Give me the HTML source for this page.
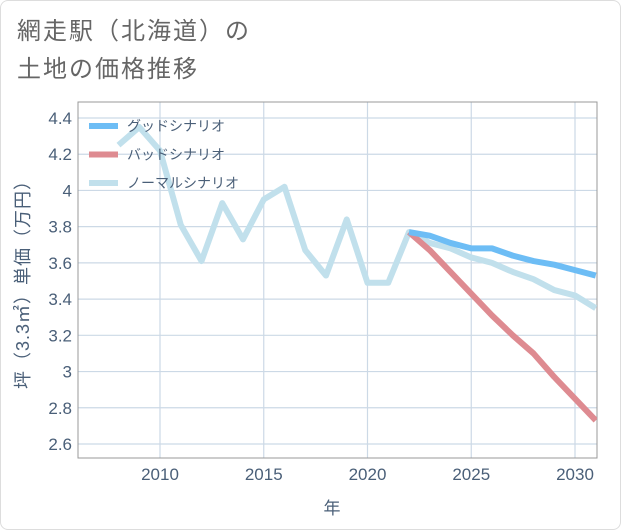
<!DOCTYPE html>
<html><head><meta charset="utf-8"><style>
body{margin:0;background:#fff;}
#wrap{position:relative;width:619px;height:528px;border:1px solid #ddd;border-radius:8px;overflow:hidden;font-family:"Liberation Sans","Noto Sans CJK JP",sans-serif;}
.title{position:absolute;left:16px;color:#666;font-size:24px;line-height:38px;letter-spacing:2px;}
</style></head><body>
<div id="wrap">
<div class="title" style="top:12px">網走駅（北海道）の<br>土地の価格推移</div>
<svg id="chart" width="621" height="530" style="position:absolute;left:-1px;top:-1px"></svg>
</div>
<script>
const years=[2008,2009,2010,2011,2012,2013,2014,2015,2016,2017,2018,2019,2020,2021,2022,2023,2024,2025,2026,2027,2028,2029,2030,2031];
const normalValues=[4.25,4.35,4.22,3.81,3.61,3.93,3.73,3.95,4.02,3.67,3.53,3.84,3.49,3.49,3.77,3.71,3.68,3.63,3.60,3.55,3.51,3.45,3.42,3.35];
const futureYears=[2022,2023,2024,2025,2026,2027,2028,2029,2030,2031];
const goodValues=[3.77,3.75,3.71,3.68,3.68,3.64,3.61,3.59,3.56,3.53];
const badValues=[3.77,3.67,3.55,3.43,3.31,3.20,3.10,2.97,2.85,2.73];
const yTicks=[2.6,2.8,3,3.2,3.4,3.6,3.8,4,4.2,4.4];
const yTickLabels=["2.6","2.8","3","3.2","3.4","3.6","3.8","4","4.2","4.4"];
const xTicks=[2010,2015,2020,2025,2030];
const xTickLabels=["2010","2015","2020","2025","2030"];
const X0=78,X1=597,Y0=102,Y1=458;
const xs=y=>160+(y-2010)*20.75;
const ys=v=>118+(4.4-v)*181.1;
const svg=document.getElementById('chart');
const NS='http://www.w3.org/2000/svg';
function mk(t,a,p){const e=document.createElementNS(NS,t);for(const k in a)e.setAttribute(k,a[k]);(p||svg).appendChild(e);return e;}
const grid=mk('g',{});


yTicks.forEach((v,i)=>{
 mk('line',{x1:X0,x2:X1,y1:ys(v),y2:ys(v),stroke:'#ccd9e6','stroke-width':1.2},grid);
 const t=mk('text',{x:72,y:ys(v)+6,'text-anchor':'end','font-size':17,fill:'#4a5f78'});
 t.textContent=yTickLabels[i];
 
 
});
xTicks.forEach((v,i)=>{
 mk('line',{x1:xs(v),x2:xs(v),y1:Y0,y2:Y1,stroke:'#ccd9e6','stroke-width':1.2},grid);
 const t=mk('text',{x:xs(v),y:480,'text-anchor':'middle','font-size':17,fill:'#4a5f78'});
 t.textContent=xTickLabels[i];
 
 
});
const frame=mk('rect',{x:X0,y:Y0,width:X1-X0,height:Y1-Y0,fill:'none',stroke:'#999','stroke-width':1});


const clip=mk('clipPath',{id:'cp'});mk('rect',{x:X0,y:Y0,width:X1-X0,height:Y1-Y0},clip);
function line(xv,yv,color,name){
 const p=mk('polyline',{points:xv.map((x,i)=>xs(x)+','+ys(yv[i])).join(' '),fill:'none',stroke:color,'stroke-width':6,'stroke-linejoin':'round','clip-path':'url(#cp)'});
 
 
}
line(years,normalValues,'#c1e0ec','normal-scenario-line');
line(futureYears,badValues,'#de8b91','bad-scenario-line');
line(futureYears,goodValues,'#6dbdf5','good-scenario-line');
const legend=[['グッドシナリオ','#6dbdf5'],['バッドシナリオ','#de8b91'],['ノーマルシナリオ','#c1e0ec']];
legend.forEach((d,i)=>{
 const g=mk('g',{});
 
 
 const y=126+i*28.5;
 mk('rect',{x:89,y:y-3,width:29,height:6,fill:d[1]},g);
 const t=mk('text',{x:127,y:y+5,'font-size':14,fill:'#4a5f78'},g);t.textContent=d[0];
});
const yt=mk('text',{transform:'translate(29,280) rotate(-90)','text-anchor':'middle','font-size':18,'letter-spacing':1,fill:'#4a5f78'});
yt.textContent='坪（3.3㎡）単価（万円）';


const xt=mk('text',{x:332,y:514,'text-anchor':'middle','font-size':17,fill:'#4a5f78'});
xt.textContent='年';


</script>
</body></html>
